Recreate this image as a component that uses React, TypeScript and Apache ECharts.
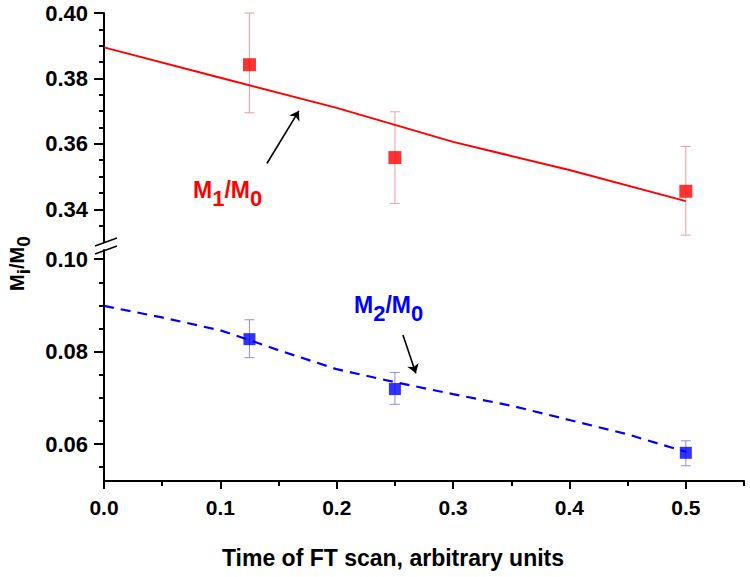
import React, { useEffect, useRef } from "react";
import * as echarts from "echarts";

const xPoints = [0.125, 0.25, 0.5];
const m1Values = [0.3842, 0.3558, 0.3455];
const m1Lower = [0.3695, 0.3418, 0.3321];
const m1Upper = [0.4, 0.3698, 0.3592];
const m2Values = [0.0827, 0.0719, 0.0581];
const m2Lower = [0.0787, 0.0686, 0.0553];
const m2Upper = [0.0869, 0.0755, 0.0607];

const m1FitX = [0, 0.1, 0.2, 0.3, 0.4, 0.5];
const m1Fit = [0.3895, 0.3802, 0.371, 0.3606, 0.352, 0.3425];
const m2FitX = [0, 0.05, 0.1, 0.125, 0.15, 0.2, 0.25, 0.3, 0.35, 0.4, 0.45, 0.5];
const m2Fit = [0.0899, 0.0874, 0.0846, 0.0825, 0.0803, 0.0762, 0.0734, 0.0708, 0.0683, 0.0652, 0.0621, 0.0583];

const xLabelTicks = [0, 0.1, 0.2, 0.3, 0.4, 0.5];
const xMinorTicks = [0.05, 0.15, 0.25, 0.35, 0.45, 0.55];
const upperMajor = [0.34, 0.36, 0.38, 0.4];
const upperMinor = [0.335, 0.345, 0.35, 0.355, 0.365, 0.37, 0.375, 0.385, 0.39, 0.395];
const lowerMajor = [0.06, 0.08, 0.1];
const lowerMinor = [0.055, 0.065, 0.07, 0.075, 0.085, 0.09, 0.095];

const m1Arrow = [[0.14, 0.354], [0.1675, 0.3701]];
const m2Arrow = [[0.2569, 0.0836], [0.268, 0.0753]];

const FONT = "Liberation Sans, Arial, sans-serif";

function errorBars(color: string) {
  return (params: any, api: any) => {
    const x = api.value(0);
    const lo = api.coord([x, api.value(1)]);
    const hi = api.coord([x, api.value(2)]);
    const hw = 5;
    const st = { stroke: color, lineWidth: 1 };
    return {
      type: "group",
      children: [
        { type: "line", shape: { x1: lo[0], y1: lo[1], x2: hi[0], y2: hi[1] }, style: st },
        { type: "line", shape: { x1: lo[0] - hw, y1: lo[1], x2: lo[0] + hw, y2: lo[1] }, style: st },
        { type: "line", shape: { x1: hi[0] - hw, y1: hi[1], x2: hi[0] + hw, y2: hi[1] }, style: st },
      ],
    };
  };
}

function yMain(grid: number, min: number, max: number, major: number[]) {
  return {
    gridIndex: grid,
    type: "value",
    position: "left",
    min,
    max,
    axisLine: { show: true, lineStyle: { color: "#000", width: 2 } },
    axisTick: { show: true, customValues: major, length: 10, lineStyle: { color: "#000", width: 2 } },
    axisLabel: {
      show: true,
      customValues: major,
      margin: 16,
      color: "#000",
      fontSize: 22,
      fontWeight: "bold",
      fontFamily: FONT,
      formatter: (v: number) => v.toFixed(2),
    },
    splitLine: { show: false },
  };
}

function yMinor(grid: number, min: number, max: number, minor: number[]) {
  return {
    gridIndex: grid,
    type: "value",
    position: "left",
    offset: 0,
    min,
    max,
    axisLine: { show: false },
    axisTick: { show: true, customValues: minor, length: 5, lineStyle: { color: "#000", width: 2 } },
    axisLabel: { show: false },
    splitLine: { show: false },
  };
}

function subText(main1: string, sub1: string, main2: string, sub2: string, color: string) {
  return {
    text: `{m|${main1}}{s|${sub1}}{m|${main2}}{s|${sub2}}`,
    rich: {
      m: { fontSize: 23, fontWeight: "bold", fontFamily: FONT, fill: color, lineHeight: 23, verticalAlign: "top" },
      s: { fontSize: 22, fontWeight: "bold", fontFamily: FONT, fill: color, lineHeight: 22, padding: [9, 0, 0, 0], verticalAlign: "top" },
    },
  };
}

export default function App() {
  const ref = useRef<HTMLDivElement>(null);
  useEffect(() => {
    if (!ref.current) return;
    const chart = echarts.init(ref.current, null, { renderer: "svg" });
    const option: any = {
      animation: false,
      backgroundColor: "#fff",
      grid: [
        { left: 104, top: 13, width: 640, height: 229 },
        { left: 104, top: 250, width: 640, height: 231 },
      ],
      xAxis: [
        { gridIndex: 0, type: "value", min: 0, max: 0.55, show: false },
        {
          gridIndex: 1,
          type: "value",
          position: "bottom",
          min: 0,
          max: 0.55,
          axisLine: { show: true, lineStyle: { color: "#000", width: 2 } },
          axisTick: { show: true, customValues: xLabelTicks, length: 8, lineStyle: { color: "#000", width: 2 } },
          axisLabel: {
            show: true,
            customValues: xLabelTicks,
            margin: 16,
            color: "#000",
            fontSize: 21,
            fontWeight: "bold",
            fontFamily: FONT,
            formatter: (v: number) => v.toFixed(1),
          },
          splitLine: { show: false },
        },
        {
          gridIndex: 1,
          type: "value",
          min: 0,
          max: 0.55,
          position: "bottom",
          offset: 0,
          axisLine: { show: false },
          axisTick: { show: true, customValues: xMinorTicks, length: 5, lineStyle: { color: "#000", width: 2 } },
          axisLabel: { show: false },
          splitLine: { show: false },
        },
      ],
      yAxis: [
        yMain(0, 0.33, 0.4, upperMajor),
        yMinor(0, 0.33, 0.4, upperMinor),
        yMain(1, 0.052, 0.102, lowerMajor),
        yMinor(1, 0.052, 0.102, lowerMinor),
      ],
      series: [
        {
          type: "line",
          xAxisIndex: 0,
          yAxisIndex: 0,
          data: m1FitX.map((x, i) => [x, m1Fit[i]]),
          showSymbol: false,
          lineStyle: { color: "#ff0000", width: 2 },
          z: 2,
        },
        {
          type: "custom",
          xAxisIndex: 0,
          yAxisIndex: 0,
          data: xPoints.map((x, i) => [x, m1Lower[i], m1Upper[i]]),
          encode: { x: 0, y: [1, 2] },
          renderItem: errorBars("#f39a9a"),
          z: 1,
        },
        {
          type: "scatter",
          xAxisIndex: 0,
          yAxisIndex: 0,
          data: xPoints.map((x, i) => [x, m1Values[i]]),
          symbol: "rect",
          symbolSize: 13,
          itemStyle: { color: "#ff0000" },
          z: 3,
          markLine: {
            silent: true,
            symbol: ["none", "arrow"],
            symbolSize: 9,
            label: { show: false },
            lineStyle: { color: "#000", width: 1.6, type: "solid" },
            data: [[{ coord: m1Arrow[0] }, { coord: m1Arrow[1] }]],
          },
        },
        {
          type: "line",
          xAxisIndex: 1,
          yAxisIndex: 2,
          data: m2FitX.map((x, i) => [x, m2Fit[i]]),
          showSymbol: false,
          lineStyle: { color: "#0000ff", width: 2.2, type: [10, 7] },
          z: 2,
        },
        {
          type: "custom",
          xAxisIndex: 1,
          yAxisIndex: 2,
          data: xPoints.map((x, i) => [x, m2Lower[i], m2Upper[i]]),
          encode: { x: 0, y: [1, 2] },
          renderItem: errorBars("#8c8cf5"),
          z: 1,
        },
        {
          type: "scatter",
          xAxisIndex: 1,
          yAxisIndex: 2,
          data: xPoints.map((x, i) => [x, m2Values[i]]),
          symbol: "rect",
          symbolSize: 12,
          itemStyle: { color: "#0000ff" },
          z: 3,
          markLine: {
            silent: true,
            symbol: ["none", "arrow"],
            symbolSize: 9,
            label: { show: false },
            lineStyle: { color: "#000", width: 1.6, type: "solid" },
            data: [[{ coord: m2Arrow[0] }, { coord: m2Arrow[1] }]],
          },
        },
      ],
      graphic: [
        { type: "line", shape: { x1: 95, y1: 246, x2: 117, y2: 238 }, style: { stroke: "#000", lineWidth: 1.5 }, z: 10 },
        { type: "line", shape: { x1: 95, y1: 254, x2: 117, y2: 246 }, style: { stroke: "#000", lineWidth: 1.5 }, z: 10 },
        {
          type: "text",
          x: 193,
          y: 178,
          style: subText("M", "1", "/M", "0", "#ff0000"),
          z: 10,
        },
        {
          type: "text",
          x: 354,
          y: 293,
          style: subText("M", "2", "/M", "0", "#0000ff"),
          z: 10,
        },
        {
          type: "text",
          x: 7,
          y: 291,
          rotation: Math.PI / 2,
          style: {
            text: "{m|M}{s|i}{m|/M}{s|0}",
            rich: {
              m: { fontSize: 20, fontWeight: "bold", fontFamily: FONT, fill: "#000", lineHeight: 20, verticalAlign: "top" },
              s: { fontSize: 19, fontWeight: "bold", fontFamily: FONT, fill: "#000", lineHeight: 19, padding: [7, 0, 0, 0], verticalAlign: "top" },
            },
          },
          z: 10,
        },
        {
          type: "text",
          x: 393,
          y: 558,
          style: {
            text: "Time of FT scan, arbitrary units",
            fontSize: 23,
            fontWeight: "bold",
            fontFamily: FONT,
            fill: "#000",
            align: "center",
            verticalAlign: "middle",
          },
          z: 10,
        },
      ],
    };
    chart.setOption(option);
    return () => chart.dispose();
  }, []);
  return (
    <div
      ref={ref}
      style={{ position: "fixed", left: 0, top: 0, width: 750, height: 577, background: "#fff" }}
    />
  );
}
